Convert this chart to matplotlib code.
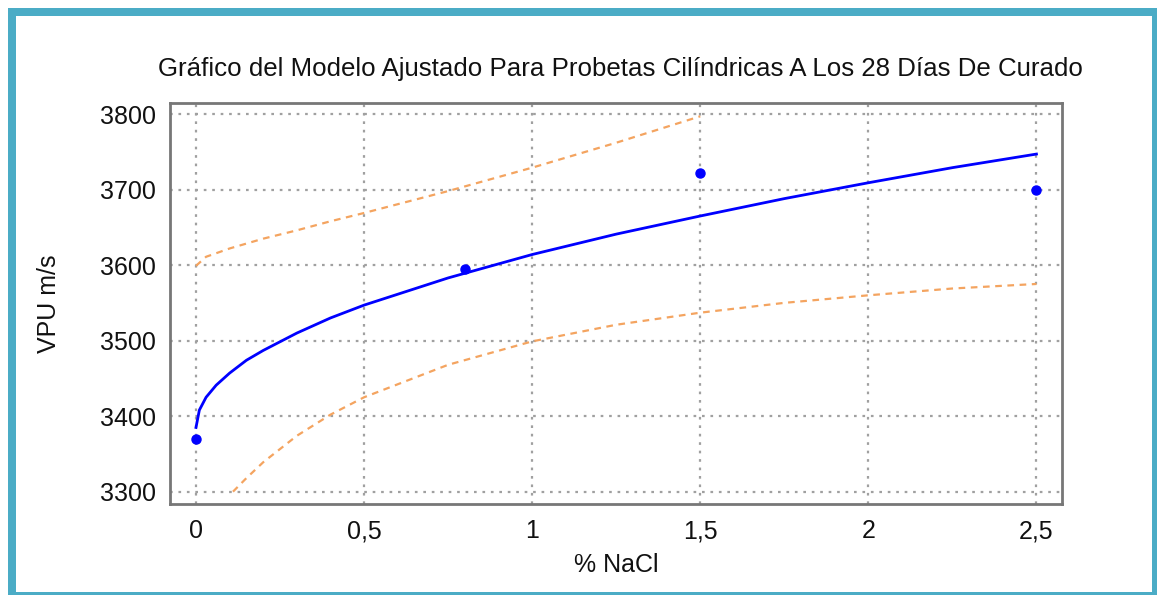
import matplotlib as m
m.use("Agg")
import matplotlib.pyplot as plt
from matplotlib.patches import Rectangle

# Measured points: % NaCl vs pulse velocity (m/s)
naclPct = [0, 0.8, 1.5, 2.5]
vpu = [3370, 3595, 3722, 3700]

# Fitted model curve (square root of X)
fitX = [0, 0.01, 0.03, 0.06, 0.1, 0.15, 0.2, 0.3, 0.4, 0.5, 0.75, 1.0, 1.25, 1.5, 1.75, 2.0, 2.25, 2.5]
fitY = [3385, 3408, 3425, 3441, 3457, 3474, 3487, 3510, 3530, 3547, 3583, 3614, 3641, 3665, 3688, 3709, 3729, 3747]

# 95% limits for the mean
upperX = [0, 0.03, 0.1, 0.2, 0.3, 0.4, 0.5, 0.75, 1.0, 1.25, 1.5]
upperY = [3599, 3611, 3622, 3635, 3646, 3658, 3669, 3698, 3729, 3762, 3797]
lowerX = [0.11, 0.15, 0.2, 0.3, 0.4, 0.5, 0.75, 1.0, 1.25, 1.5, 1.75, 2.0, 2.25, 2.5]
lowerY = [3300, 3318, 3339, 3374, 3402, 3425, 3468, 3499, 3521, 3537, 3550, 3560, 3569, 3575]

xTicks = [0, 0.5, 1, 1.5, 2, 2.5]
xTickLabels = ["0", "0,5", "1", "1,5", "2", "2,5"]
yTicks = [3300, 3400, 3500, 3600, 3700, 3800]

plt.rcParams['font.family'] = ['Liberation Sans', 'DejaVu Sans']

W, H = 1157, 595
fig = plt.figure(figsize=(W / 100, H / 100), dpi=100)
ax = fig.add_axes([170 / W, 1 - 504 / H, (1062 - 170) / W, (504 - 103) / H])

ax.plot(fitX, fitY, color='#0000ff', lw=2.0, zorder=3)
ax.plot(upperX, upperY, color='#f4a460', lw=1.6, ls=(0, (3, 2.5)), zorder=2)
ax.plot(lowerX, lowerY, color='#f4a460', lw=1.6, ls=(0, (3, 2.5)), zorder=2)
ax.plot(naclPct, vpu, 'o', color='#0000ff', ms=6.5, zorder=4)

ax.set_xlim(-0.0773, 2.576)
ax.set_ylim(3283.7, 3814.6)
ax.set_xticks(xTicks)
ax.set_xticklabels(xTickLabels)
ax.set_yticks(yTicks)
ax.tick_params(length=0, labelsize=18, colors='#111111')
ax.tick_params(axis='y', pad=10)
ax.tick_params(axis='x', pad=11)
ax.grid(True, color='#a0a0a0', ls=(0, (1.2, 2.6)), lw=1.6)

for s in ax.spines.values():
    s.set_color('#777777')
    s.set_linewidth(2)

ax.set_xlabel('% NaCl', fontsize=18, color='#111111', labelpad=7)
ax.set_ylabel('VPU m/s', fontsize=18, color='#111111', labelpad=28)

fig.text(620 / W, 1 - 69 / H,
         'Gráfico del Modelo Ajustado Para Probetas Cilíndricas A Los 28 Días De Curado',
         ha='center', va='center', fontsize=18.6, color='#111111')

# cyan frame around the whole figure
fig.patches.append(Rectangle((12 / W, 1 - 596 / H), (1156 - 12) / W, (596 - 12) / H,
                             transform=fig.transFigure, fill=False,
                             edgecolor='#4bacc6', lw=8 * 0.72, clip_on=False))

fig.savefig("out.png", dpi=100)
